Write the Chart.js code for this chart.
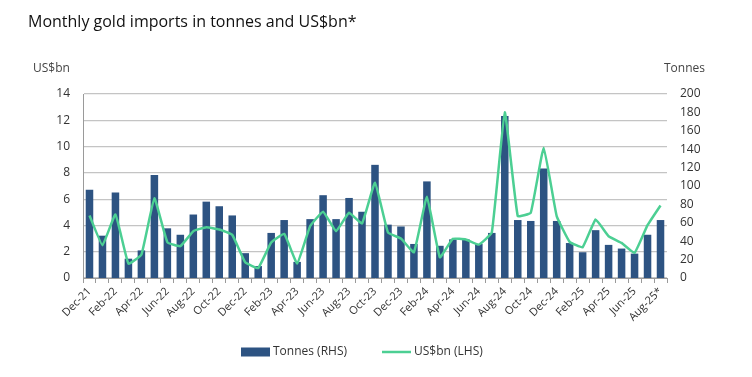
<!DOCTYPE html>
<html>
<head>
<meta charset="utf-8">
<script src="https://cdn.jsdelivr.net/npm/chart.js@4/dist/chart.umd.min.js"></script>
<style>
  html, body { margin: 0; padding: 0; background: #ffffff; }
  #wrap { position: relative; width: 752px; height: 377px; }
</style>
</head>
<body>
<div id="wrap"><canvas id="c" width="752" height="377"></canvas></div>
<script>
const months = ["Dec-21","Jan-22","Feb-22","Mar-22","Apr-22","May-22","Jun-22","Jul-22","Aug-22","Sep-22","Oct-22","Nov-22",
  "Dec-22","Jan-23","Feb-23","Mar-23","Apr-23","May-23","Jun-23","Jul-23","Aug-23","Sep-23","Oct-23","Nov-23",
  "Dec-23","Jan-24","Feb-24","Mar-24","Apr-24","May-24","Jun-24","Jul-24","Aug-24","Sep-24","Oct-24","Nov-24",
  "Dec-24","Jan-25","Feb-25","Mar-25","Apr-25","May-25","Jun-25","Jul-25","Aug-25*"];
const tonnes = [96, 46, 93, 21, 30, 112, 54, 47, 69, 83, 78, 68,
  27, 13, 49, 63, 17.5, 64, 90, 64, 87, 72, 123, 58,
  56, 37, 105, 35, 42, 42, 37, 49, 176, 63, 62, 119,
  62, 38, 28, 52, 36, 32, 26.5, 47, 63];
const usdbn = [4.76, 2.49, 4.83, 1.09, 1.78, 6.06, 2.72, 2.42, 3.56, 3.87, 3.69, 3.28,
  1.2, 0.76, 2.7, 3.36, 1.1, 3.94, 5.04, 3.56, 4.96, 4.15, 7.25, 3.46,
  3.0, 1.96, 6.18, 1.58, 2.98, 2.93, 2.54, 3.46, 12.6, 4.71, 4.96, 9.92,
  4.71, 2.75, 2.34, 4.45, 3.18, 2.67, 1.91, 4.02, 5.52];
const leftTicks = [0, 2, 4, 6, 8, 10, 12, 14];
const rightTicks = [0, 20, 40, 60, 80, 100, 120, 140, 160, 180, 200];

const FONT = "'Open Sans', 'Noto Sans', sans-serif";
const BAR = "#2d5382";
const LINE = "#4ccf93";

const textPlugin = {
  id: 'texts',
  afterDraw(chart) {
    const ctx = chart.ctx;
    ctx.save();
    ctx.fillStyle = '#111';
    ctx.font = "16px " + FONT;
    ctx.textBaseline = 'middle';
    ctx.textAlign = 'left';
    ctx.fillText("Monthly gold imports in tonnes and US$bn*", 28, 22);
    ctx.fillStyle = '#444';
    ctx.font = "12px " + FONT;
    ctx.fillText("US$bn", 33, 69);
    ctx.fillText("Tonnes", 664, 69);

    // legend, built from the datasets
    const ds = chart.data.datasets;
    const ly = 352;
    ctx.font = "12px " + FONT;
    ctx.fillStyle = '#333';
    // bar item
    ctx.fillStyle = ds[0].backgroundColor;
    ctx.fillRect(241, ly - 4.5, 29, 9);
    ctx.fillStyle = '#333';
    ctx.fillText(ds[0].label, 273, ly);
    // line item
    ctx.strokeStyle = ds[1].borderColor;
    ctx.lineWidth = 2.5;
    ctx.beginPath();
    ctx.moveTo(382, ly);
    ctx.lineTo(411, ly);
    ctx.stroke();
    ctx.fillText(ds[1].label, 414, ly);
    ctx.restore();
  }
};

new Chart(document.getElementById('c'), {
  data: {
    labels: months,
    datasets: [
      {
        type: 'bar', label: 'Tonnes (RHS)', data: tonnes, yAxisID: 'yR',
        backgroundColor: BAR, borderWidth: 0, order: 1,
        categoryPercentage: 1.0, barPercentage: 0.58
      },
      {
        type: 'line', label: 'US$bn (LHS)', data: usdbn, yAxisID: 'yL',
        borderColor: LINE, backgroundColor: LINE, borderWidth: 2.5,
        pointRadius: 0, tension: 0.1, order: 0
      }
    ]
  },
  options: {
    responsive: false,
    animation: false,
    layout: { padding: { top: 94, bottom: 41, left: 0, right: 0 } },
    plugins: {
      tooltip: { enabled: false },
      legend: { display: false }
    },
    scales: {
      x: {
        offset: true,
        grid: { display: true, drawOnChartArea: false, drawTicks: true, tickLength: 5, offset: true, color: '#9a9a9a' },
        border: { display: true, color: '#9a9a9a' },
        ticks: {
          autoSkip: false, minRotation: 45, maxRotation: 45, padding: 2,
          color: '#333', font: { family: FONT, size: 11 },
          callback: function(v, i) { return i % 2 === 0 ? this.getLabelForValue(v) : ''; }
        },
        afterFit(s) { s.height = 58; }
      },
      yL: {
        position: 'left', min: 0, max: 14,
        afterBuildTicks(s) { s.ticks = leftTicks.map(v => ({ value: v })); },
        grid: { color: '#c4c4c4', lineWidth: 1.2, drawTicks: false },
        border: { display: true, color: '#9a9a9a' },
        ticks: { padding: 13, color: '#333', font: { family: FONT, size: 12 } },
        afterFit(s) { s.width = 83; }
      },
      yR: {
        position: 'right', min: 0, max: 200,
        afterBuildTicks(s) { s.ticks = rightTicks.map(v => ({ value: v })); },
        grid: { display: false, drawTicks: false },
        border: { display: false },
        ticks: { padding: 13, color: '#333', font: { family: FONT, size: 12 } },
        afterFit(s) { s.width = 85; }
      }
    }
  },
  plugins: [textPlugin]
});
</script>
</body>
</html>
